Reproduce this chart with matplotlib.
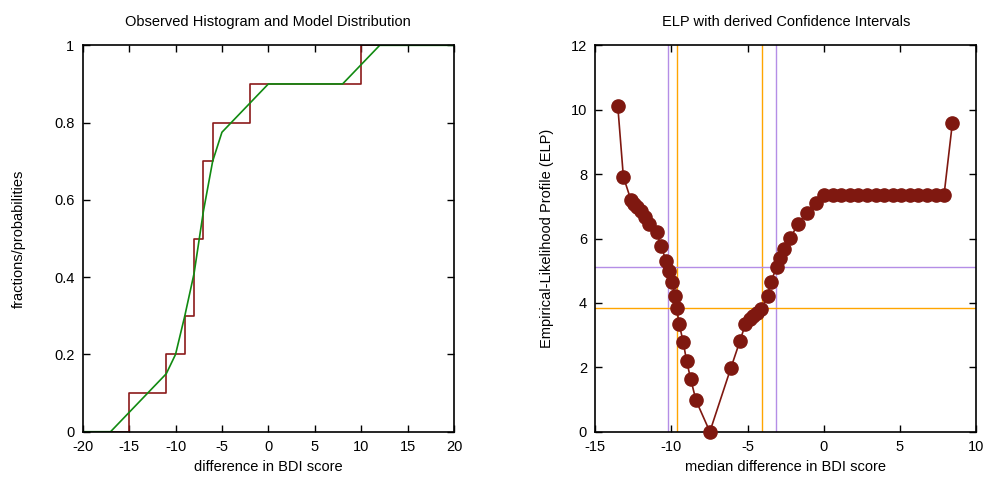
import matplotlib
matplotlib.use("Agg")
import matplotlib.pyplot as plt
import numpy as np

plt.rcParams['font.family'] = ['Liberation Sans', 'DejaVu Sans']
plt.rcParams['font.size'] = 10.5
plt.rcParams['axes.unicode_minus'] = False

# observed histogram (empirical cdf steps)
step_x = [-20, -15, -11, -9, -8, -7, -6, -2, 10, 20]
step_y = [0.0, 0.1, 0.2, 0.3, 0.5, 0.7, 0.8, 0.9, 1.0, 1.0]

# model distribution
model_x = [-20, -17, -11, -10, -9, -8, -7, -6, -5, 0, 8, 12, 20]
model_y = [0.0, 0.0, 0.15, 0.2, 0.3, 0.41, 0.57, 0.7, 0.775, 0.9, 0.9, 1.0, 1.0]

# empirical likelihood profile
elp_x = [-13.53, -13.16, -12.66, -12.44, -12.24, -12.03, -11.74, -11.46, -10.98,
         -10.69, -10.36, -10.14, -9.97, -9.77, -9.66, -9.49, -9.23, -9.01, -8.74,
         -8.39, -7.48, -6.10, -5.51, -5.14, -4.85, -4.63, -4.41, -4.09, -3.69,
         -3.47, -3.10, -2.88, -2.60, -2.23, -1.68, -1.09, -0.54,
         0.03, 0.59, 1.16, 1.72, 2.28, 2.84, 3.41, 3.97, 4.53, 5.09, 5.66, 6.22,
         6.78, 7.34, 7.90, 8.45]
elp_y = [10.13, 7.92, 7.19, 7.07, 6.97, 6.84, 6.67, 6.46, 6.19,
         5.78, 5.31, 5.00, 4.66, 4.23, 3.83, 3.33, 2.79, 2.20, 1.64,
         0.97, 0.0, 1.98, 2.81, 3.35, 3.49, 3.59, 3.70, 3.82, 4.22,
         4.66, 5.10, 5.40, 5.66, 6.01, 6.44, 6.80, 7.10,
         7.36, 7.36, 7.36, 7.36, 7.36, 7.36, 7.36, 7.36, 7.36, 7.36, 7.36, 7.36,
         7.36, 7.36, 7.36, 9.60]

ci95 = [-9.66, -4.06]
ci_wide = [-10.21, -3.12]
thr95 = 3.84
thr_wide = 5.10

orange = '#ffa500'
purple = '#b48ee6'
darkred = '#7f1810'

fig = plt.figure(figsize=(9.86, 4.8), dpi=100)
ax1 = fig.add_axes([0.0839, 0.1006, 0.3765, 0.805])
ax2 = fig.add_axes([0.6038, 0.1006, 0.3861, 0.805])

ax1.step(step_x, step_y, where='post', color='#8b1a1a', lw=1.2)
ax1.plot(model_x, model_y, color='#118a11', lw=1.2)
ax1.set_xlim(-20, 20)
ax1.set_ylim(0, 1)
ax1.set_xticks(np.arange(-20, 21, 5))
ax1.set_yticks([0, 0.2, 0.4, 0.6, 0.8, 1])
ax1.set_yticklabels(['0', '0.2', '0.4', '0.6', '0.8', '1'])
ax1.set_title("Observed Histogram and Model Distribution", fontsize=10.5, pad=14)
ax1.set_xlabel("difference in BDI score")
ax1.set_ylabel("fractions/probabilities", labelpad=20)

for x in ci_wide:
    ax2.axvline(x, color=purple, lw=1)
for x in ci95:
    ax2.axvline(x, color=orange, lw=1)
ax2.axhline(thr_wide, color=purple, lw=1)
ax2.axhline(thr95, color=orange, lw=1)
ax2.plot(elp_x, elp_y, color=darkred, lw=1.2, marker='o', ms=9.5, clip_on=False, zorder=5)
ax2.set_xlim(-15, 10)
ax2.set_ylim(0, 12)
ax2.set_xticks(np.arange(-15, 11, 5))
ax2.set_yticks(np.arange(0, 13, 2))
ax2.set_title("ELP with derived Confidence Intervals", fontsize=10.5, pad=14)
ax2.set_xlabel("median difference in BDI score")
ax2.set_ylabel("Empirical-Likelihood Profile (ELP)", labelpad=12)

for ax in (ax1, ax2):
    ax.tick_params(direction='in', top=True, right=True, length=5, width=1, pad=6)
    for s in ax.spines.values():
        s.set_linewidth(1.2)

fig.savefig("out.png", dpi=100)
